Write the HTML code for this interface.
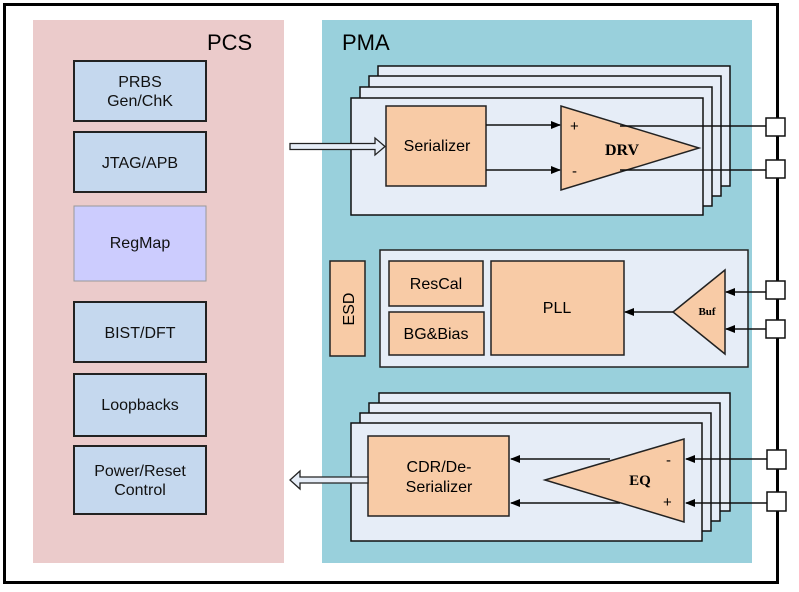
<!DOCTYPE html>
<html><head><meta charset="utf-8"><style>html,body{margin:0;padding:0;background:#fff}</style></head>
<body>
<svg width="799" height="587" viewBox="0 0 799 587" xmlns="http://www.w3.org/2000/svg" font-family="Liberation Sans, Arial, sans-serif">
<defs>
<marker id="ah" markerWidth="10" markerHeight="8" refX="9" refY="4" orient="auto" markerUnits="userSpaceOnUse">
<path d="M0,0 L10,4 L0,8 Z" fill="#000"/>
</marker>
</defs>
<rect x="0" y="0" width="799" height="587" fill="#fff"/>
<rect x="4.5" y="4.5" width="773" height="578" fill="#fff" stroke="#000" stroke-width="3"/>
<rect x="33" y="20" width="251" height="543" fill="#ebcbcb"/>
<rect x="322" y="20" width="430" height="543" fill="#99d0dc"/>
<text x="207" y="50" font-size="22">PCS</text>
<text x="342" y="50" font-size="22">PMA</text>

<g stroke="#222" stroke-width="2">
<rect x="74" y="61" width="132" height="60" fill="#c5d8ee"/>
<rect x="74" y="132" width="132" height="60" fill="#c5d8ee"/>
<rect x="74" y="206" width="132" height="75" fill="#ccccfe" stroke="#999" stroke-width="1"/>
<rect x="74" y="302" width="132" height="60" fill="#c5d8ee"/>
<rect x="74" y="374" width="132" height="62" fill="#c5d8ee"/>
<rect x="74" y="446" width="132" height="68" fill="#c5d8ee"/>
</g>
<g font-size="16" text-anchor="middle" fill="#111">
<text x="140" y="87">PRBS</text><text x="140" y="106">Gen/ChK</text>
<text x="140" y="168">JTAG/APB</text>
<text x="140" y="248">RegMap</text>
<text x="140" y="338">BIST/DFT</text>
<text x="140" y="410">Loopbacks</text>
<text x="140" y="476">Power/Reset</text><text x="140" y="495">Control</text>
</g>

<!-- TX stack -->
<g stroke="#111" stroke-width="1.5" fill="#e6edf7">
<rect x="378" y="66" width="352" height="120"/>
<rect x="369" y="76" width="352" height="120"/>
<rect x="360" y="87" width="352" height="119"/>
<rect x="351" y="98" width="352" height="117"/>
</g>
<rect x="386" y="106" width="100" height="80" fill="#f8cba6" stroke="#222" stroke-width="1.5"/>
<text x="437" y="151" font-size="16" text-anchor="middle">Serializer</text>
<path d="M561,106 L561,190 L699,148 Z" fill="#f8cba6" stroke="#222" stroke-width="1.5"/>
<text x="605" y="155" font-size="16" font-weight="bold" font-family="Liberation Serif, serif">DRV</text>
<text x="570" y="131" font-size="15">+</text>
<text x="572" y="176" font-size="15">-</text>
<g stroke="#111" stroke-width="1.5">
<line x1="486" y1="125" x2="560" y2="125" marker-end="url(#ah)"/>
<line x1="486" y1="170" x2="560" y2="170" marker-end="url(#ah)"/>
<line x1="620" y1="126" x2="767" y2="126"/>
<line x1="620" y1="170" x2="767" y2="170"/>
</g>
<path d="M290,143.5 L375,143.5 L375,138 L385,146.5 L375,155 L375,149.5 L290,149.5 Z" fill="#e6edf7" stroke="#222" stroke-width="1.3"/>

<!-- middle -->
<rect x="330" y="261" width="35" height="95" fill="#f8cba6" stroke="#222" stroke-width="1.5"/>
<text transform="translate(354,309) rotate(-90)" font-size="16" text-anchor="middle">ESD</text>
<rect x="380" y="250" width="368" height="117" fill="#e6edf7" stroke="#222" stroke-width="1.5"/>
<rect x="389" y="261" width="94" height="45" fill="#f8cba6" stroke="#222" stroke-width="1.5"/>
<text x="436" y="289" font-size="16" text-anchor="middle">ResCal</text>
<rect x="389" y="312" width="95" height="43" fill="#f8cba6" stroke="#222" stroke-width="1.5"/>
<text x="436" y="339" font-size="16" text-anchor="middle">BG&amp;Bias</text>
<rect x="491" y="261" width="133" height="94" fill="#f8cba6" stroke="#222" stroke-width="1.5"/>
<text x="557" y="313" font-size="16" text-anchor="middle">PLL</text>
<path d="M673,312 L725,270 L725,354 Z" fill="#f8cba6" stroke="#222" stroke-width="1.5"/>
<text x="707" y="315" font-size="11" font-weight="bold" font-family="Liberation Serif, serif" text-anchor="middle">Buf</text>
<g stroke="#111" stroke-width="1.5">
<line x1="673" y1="312" x2="625" y2="312" marker-end="url(#ah)"/>
<line x1="767" y1="292" x2="726" y2="292" marker-end="url(#ah)"/>
<line x1="767" y1="329" x2="726" y2="329" marker-end="url(#ah)"/>
</g>

<!-- RX stack -->
<g stroke="#111" stroke-width="1.5" fill="#e6edf7">
<rect x="379" y="393" width="351" height="118"/>
<rect x="369" y="403" width="351" height="118"/>
<rect x="360" y="413" width="351" height="118"/>
<rect x="351" y="423" width="351" height="118"/>
</g>
<rect x="368" y="436" width="141" height="80" fill="#f8cba6" stroke="#222" stroke-width="1.5"/>
<text x="439" y="472" font-size="16" text-anchor="middle">CDR/De-</text>
<text x="439" y="492" font-size="16" text-anchor="middle">Serializer</text>
<path d="M545,480 L684,439 L684,522 Z" fill="#f8cba6" stroke="#222" stroke-width="1.5"/>
<text x="640" y="485" font-size="15" font-weight="bold" font-family="Liberation Serif, serif" text-anchor="middle">EQ</text>
<text x="666" y="465" font-size="15">-</text>
<text x="663" y="507" font-size="15">+</text>
<g stroke="#111" stroke-width="1.5">
<line x1="610" y1="459" x2="511" y2="459" marker-end="url(#ah)"/>
<line x1="620" y1="503" x2="511" y2="503" marker-end="url(#ah)"/>
<line x1="767" y1="459" x2="686" y2="459" marker-end="url(#ah)"/>
<line x1="767" y1="503" x2="686" y2="503" marker-end="url(#ah)"/>
</g>
<path d="M368,477 L300,477 L300,471 L290,480 L300,489 L300,483 L368,483 Z" fill="#e6edf7" stroke="#222" stroke-width="1.3"/>

<!-- pads -->
<g fill="#fff" stroke="#111" stroke-width="1.5">
<rect x="766" y="118" width="19" height="18"/>
<rect x="766" y="160" width="19" height="18"/>
<rect x="766" y="281" width="19" height="18"/>
<rect x="766" y="320" width="19" height="18"/>
<rect x="767" y="450" width="19" height="19"/>
<rect x="767" y="492" width="19" height="19"/>
</g>
</svg>
</body></html>
